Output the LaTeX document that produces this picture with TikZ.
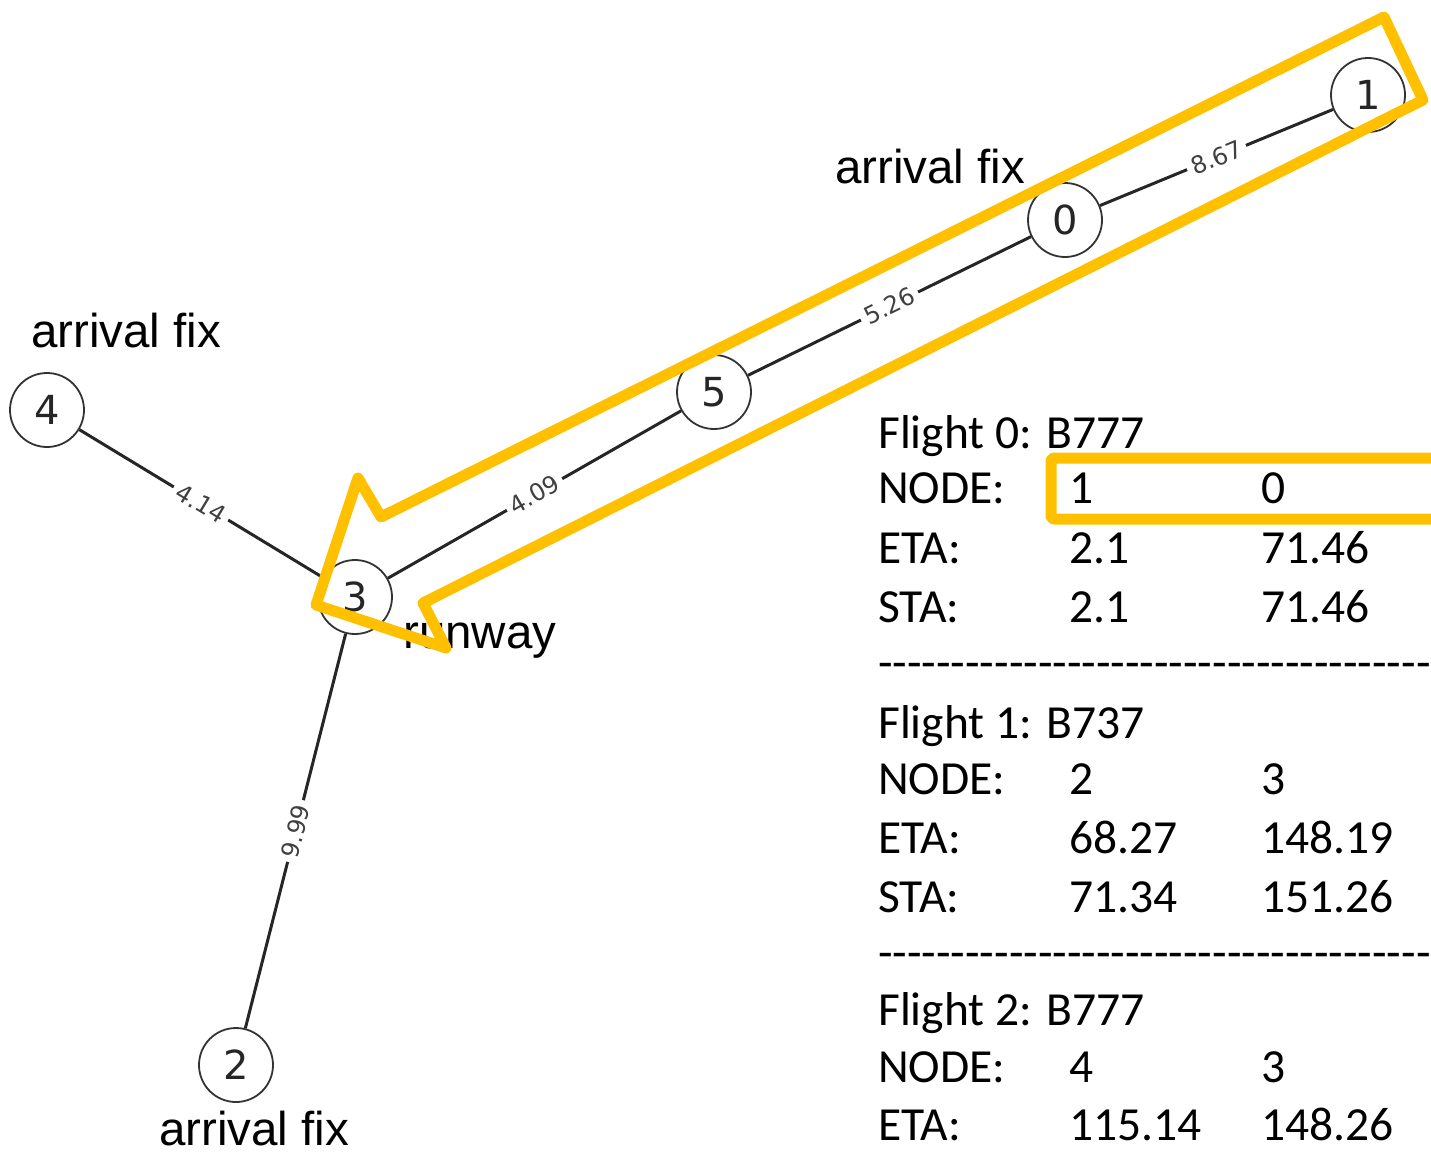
\documentclass[tikz,border=0pt]{standalone}
\usepackage{fontspec}
\newfontfamily\arialf{Liberation Sans}
\newfontfamily\calf{Carlito}
\newfontfamily\djvf{DejaVu Sans}
\definecolor{gold}{HTML}{FFC000}
\def\hy{\mbox{-}}
\def\hyten{\hy\hy\hy\hy\hy\hy\hy\hy\hy\hy}
\def\hyrow{\hyten\hyten\hyten\hy\hy\hy\hy\hy\hy\hy\hy}
\begin{document}
\begin{tikzpicture}[x=1pt,y=-1pt,
 gnode/.style={circle, draw=black!80, line width=1.8pt, fill=white, minimum size=74pt, inner sep=0pt, font=\djvf\fontsize{40}{40}\selectfont, text=black!85},
 edge/.style={draw=black!85, line width=3pt},
 elab/.style={sloped, fill=white, inner sep=5pt, font=\djvf\fontsize{24}{24}\selectfont, text=black!75},
 lbl/.style={anchor=base west, inner sep=0pt, font=\arialf\fontsize{47.5}{50}\selectfont},
 tab/.style={anchor=base west, inner sep=0pt, font=\calf\fontsize{47.5}{59.5}\selectfont},
 hl/.style={draw=gold, line width=11pt, line join=round}]
\useasboundingbox (0,0) rectangle (1431,1153);
% graph nodes
\node[gnode] (n1) at (1368,95) {1};
\node[gnode] (n0) at (1065,220) {0};
\node[gnode] (n5) at (714,392) {5};
\node[gnode] (n3) at (355,597) {3};
\node[gnode] (n4) at (47,410) {4};
\node[gnode] (n2) at (236,1065) {2};
% edges
\draw[edge] (n0) -- node[elab] (l01) {8.67} (n1);
\draw[edge] (n5) -- node[elab] (l05) {5.26} (n0);
\draw[edge] (n3) -- node[elab] (l53) {4.09} (n5);
\draw[edge] (n4) -- node[elab] (l43) {4.14} (n3);
\draw[edge] (n2) -- node[elab] (l32) {9.99} (n3);
% labels
\node[lbl] (t1) at (835,183) {arrival fix};
\node[lbl] (t2) at (31,347) {arrival fix};
\node[lbl] (t3) at (159,1145) {arrival fix};
\node[lbl] (t4) at (403,648) {runway};
% table
\node[tab] (f0) at (878,448) {Flight 0: B777};
\node[tab] (f0n) at (878,503) {NODE:};
\node[tab] (f0na) at (1069,503) {1};
\node[tab] (f0nb) at (1261,503) {0};
\node[tab] (f0e) at (878,563) {ETA:};
\node[tab] (f0ea) at (1069,563) {2.1};
\node[tab] (f0eb) at (1261,563) {71.46};
\node[tab] (f0s) at (878,622) {STA:};
\node[tab] (f0sa) at (1069,622) {2.1};
\node[tab] (f0sb) at (1261,622) {71.46};
\node[tab] (d1) at (878,678) {\hyrow};
\node[tab] (f1) at (878,738) {Flight 1: B737};
\node[tab] (f1n) at (878,794) {NODE:};
\node[tab] (f1na) at (1069,794) {2};
\node[tab] (f1nb) at (1261,794) {3};
\node[tab] (f1e) at (878,853) {ETA:};
\node[tab] (f1ea) at (1069,853) {68.27};
\node[tab] (f1eb) at (1261,853) {148.19};
\node[tab] (f1s) at (878,912) {STA:};
\node[tab] (f1sa) at (1069,912) {71.34};
\node[tab] (f1sb) at (1261,912) {151.26};
\node[tab] (d2) at (878,968) {\hyrow};
\node[tab] (f2) at (878,1025) {Flight 2: B777};
\node[tab] (f2n) at (878,1082) {NODE:};
\node[tab] (f2na) at (1069,1082) {4};
\node[tab] (f2nb) at (1261,1082) {3};
\node[tab] (f2e) at (878,1140) {ETA:};
\node[tab] (f2ea) at (1069,1140) {115.14};
\node[tab] (f2eb) at (1261,1140) {148.26};
% highlight arrow
\coordinate (p1) at (1384,17);
\coordinate (p2) at (1423,100);
\coordinate (p3) at (423,603);
\coordinate (p4) at (446,648);
\coordinate (p5) at (316,605);
\coordinate (p6) at (358,478);
\coordinate (p7) at (381,517);
\draw[hl] (p1) -- (p2) -- (p3) -- (p4) -- (p5) -- (p6) -- (p7) -- cycle;
% highlight box
\coordinate (b1) at (1051,458);
\coordinate (b2) at (1460,519);
\draw[hl, rounded corners=3pt] (b1) rectangle (b2);
\end{tikzpicture}
\end{document}
